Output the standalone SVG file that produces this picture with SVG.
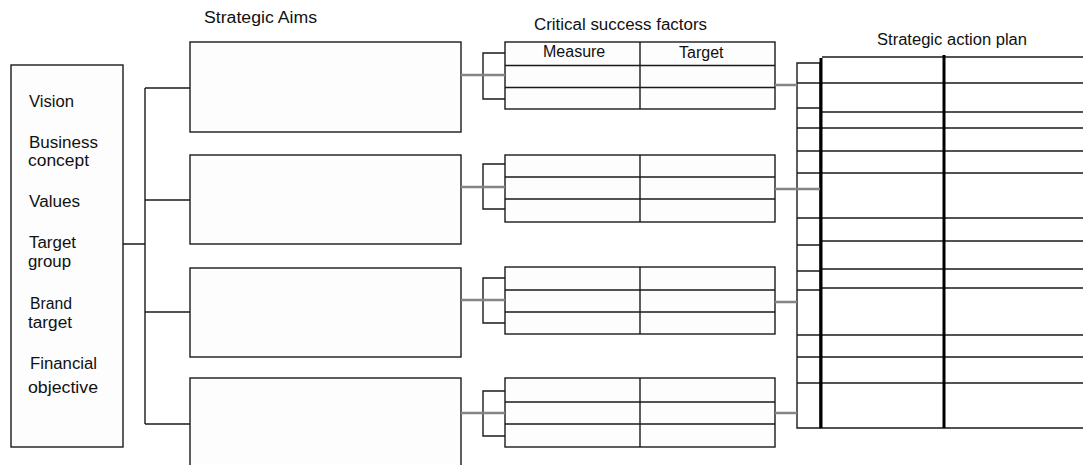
<svg xmlns="http://www.w3.org/2000/svg" width="1083" height="465" viewBox="0 0 1083 465">
  <style>
    .box { fill: #fdfdfd; stroke: #1a1a1a; stroke-width: 1.4; }
    .ln { fill: none; stroke: #1a1a1a; stroke-width: 1.4; }
    .thick { fill: none; stroke: #000; stroke-width: 3; }
    .gray { fill: none; stroke: #858585; stroke-width: 2.6; }
    .t { font-family: "Liberation Sans", Arial, sans-serif; font-size: 16px; fill: #111; }
  </style>
  <rect width="1083" height="465" fill="#ffffff"/>

  <!-- Headings -->
  <g id="headings">
    <text class="t" x="204" y="23" textLength="113" lengthAdjust="spacingAndGlyphs">Strategic Aims</text>
    <text class="t" x="534" y="30" textLength="173" lengthAdjust="spacingAndGlyphs">Critical success factors</text>
    <text class="t" x="877" y="45" textLength="150" lengthAdjust="spacingAndGlyphs">Strategic action plan</text>
  </g>

  <!-- Foundation box -->
  <g id="foundation">
    <rect class="box" x="11" y="65" width="112" height="382"/>
    <text class="t" x="29" y="107" textLength="45" lengthAdjust="spacingAndGlyphs">Vision</text>
    <text class="t" x="29" y="148" textLength="69" lengthAdjust="spacingAndGlyphs">Business</text>
    <text class="t" x="28" y="166" textLength="61" lengthAdjust="spacingAndGlyphs">concept</text>
    <text class="t" x="29" y="207" textLength="51" lengthAdjust="spacingAndGlyphs">Values</text>
    <text class="t" x="29" y="248" textLength="47" lengthAdjust="spacingAndGlyphs">Target</text>
    <text class="t" x="28" y="267" textLength="43" lengthAdjust="spacingAndGlyphs">group</text>
    <text class="t" x="30" y="309" textLength="42" lengthAdjust="spacingAndGlyphs">Brand</text>
    <text class="t" x="28" y="328" textLength="44" lengthAdjust="spacingAndGlyphs">target</text>
    <text class="t" x="30" y="369" textLength="67" lengthAdjust="spacingAndGlyphs">Financial</text>
    <text class="t" x="28" y="393" textLength="70" lengthAdjust="spacingAndGlyphs">objective</text>
  </g>

  <!-- Strategic aims -->
  <g id="aim-1"><rect class="box" x="190" y="42" width="271" height="90"/></g>
  <g id="aim-2"><rect class="box" x="190" y="155" width="271" height="89"/></g>
  <g id="aim-3"><rect class="box" x="190" y="268" width="271" height="89"/></g>
  <g id="aim-4"><rect class="box" x="190" y="378" width="271" height="100"/></g>

  <!-- Critical success factor tables -->
  <g id="csf-1">
    <rect class="box" x="505" y="42" width="270" height="67"/>
    <path class="ln" d="M505 65.5H775M505 87.5H775M640 42V109"/>
    <text class="t" x="543" y="57">Measure</text>
    <text class="t" x="679" y="58">Target</text>
  </g>
  <g id="csf-2">
    <rect class="box" x="505" y="155" width="270" height="67"/>
    <path class="ln" d="M505 177H775M505 199H775M640 155V222"/>
  </g>
  <g id="csf-3">
    <rect class="box" x="505" y="267" width="270" height="67"/>
    <path class="ln" d="M505 290H775M505 312H775M640 267V334"/>
  </g>
  <g id="csf-4">
    <rect class="box" x="505" y="378" width="270" height="69"/>
    <path class="ln" d="M505 402H775M505 424H775M640 378V447"/>
  </g>

  <!-- Strategic action plan -->
  <g id="action-plan">
    <path class="ln" d="M822 57H1090"/>
    <path class="ln" d="M797 63H820V428H797Z"/>
    <path class="ln" d="M797 108H820M797 245H820M797 271H820M797 290H820"/>
    <path class="ln" d="M797 83H1090M820 112H1090M797 128H1090M797 151H1090M797 173H1090M797 218H1090M820 241H1090M820 269H1090M820 288H1090M797 335H1090M797 357H1090M797 383H1090M820 428H1090"/>
    <path class="thick" d="M821 58V428"/>
    <path class="thick" d="M944 55V428"/>
  </g>

  <!-- Connectors -->
  <g id="connectors">
    <path class="ln" d="M123 244H145M145 88V424M145 88H190M145 200H190M145 312H190M145 424H190"/>
    <path class="ln" d="M505 53H483V99H505M505 164H483V209H505M505 278H483V323H505M505 391H483V436H505"/>
    <path class="gray" d="M461 75H505M461 187H505M461 300H505M461 413H505"/>
    <path class="gray" d="M775 85H797M775 189H820M775 302H797M775 413H797"/>
  </g>
</svg>
